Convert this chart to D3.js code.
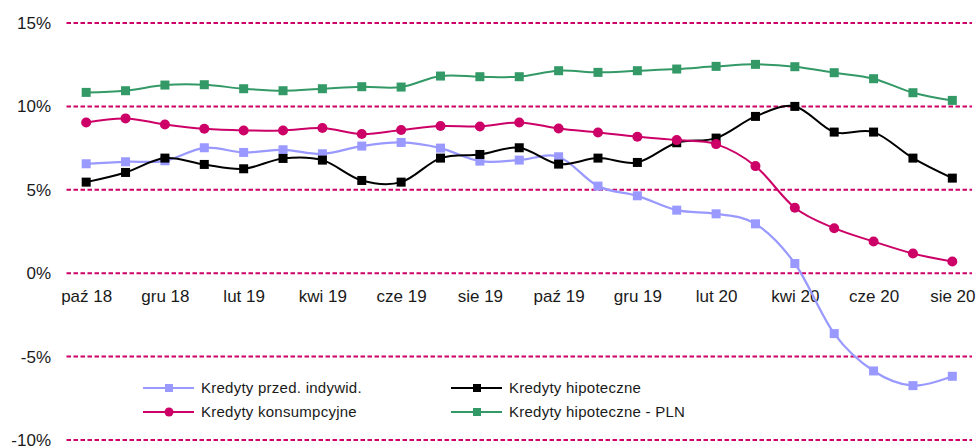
<!DOCTYPE html>
<html>
<head>
<meta charset="utf-8">
<script src="https://cdn.jsdelivr.net/npm/d3@7"></script>
<style>
  html, body { margin: 0; padding: 0; background: #fff; }
  svg { display: block; font-family: "Liberation Sans", Arial, sans-serif; }
</style>
</head>
<body>
<svg id="chart" width="978" height="448"></svg>
<script>
// ---- data ----
const months = ['paź 18','lis 18','gru 18','sty 19','lut 19','mar 19','kwi 19','maj 19','cze 19','lip 19','sie 19','wrz 19',
                'paź 19','lis 19','gru 19','sty 20','lut 20','mar 20','kwi 20','maj 20','cze 20','lip 20','sie 20'];
const tickLabels = ['paź 18','gru 18','lut 19','kwi 19','cze 19','sie 19','paź 19','gru 19','lut 20','kwi 20','cze 20','sie 20'];
const yTicks = [-10, -5, 0, 5, 10, 15];

const przedIndywid = [6.56, 6.68, 6.74, 7.52, 7.24, 7.40, 7.16, 7.62, 7.84, 7.50, 6.72, 6.78,
                      6.98, 5.22, 4.64, 3.78, 3.56, 2.96, 0.58, -3.62, -5.86, -6.74, -6.18];
const hipoteczne   = [5.46, 6.04, 6.90, 6.52, 6.26, 6.88, 6.78, 5.56, 5.46, 6.90, 7.12, 7.52,
                      6.54, 6.90, 6.64, 7.82, 8.10, 9.40, 10.00, 8.46, 8.46, 6.90, 5.70];
const konsumpcyjne = [9.04, 9.28, 8.92, 8.66, 8.56, 8.56, 8.70, 8.34, 8.58, 8.82, 8.80, 9.04,
                      8.68, 8.44, 8.18, 7.98, 7.74, 6.42, 3.92, 2.70, 1.90, 1.18, 0.70];
const hipotecznePLN = [10.84, 10.94, 11.28, 11.30, 11.06, 10.94, 11.06, 11.18, 11.16, 11.82, 11.78, 11.78,
                       12.14, 12.04, 12.14, 12.24, 12.40, 12.52, 12.38, 12.02, 11.66, 10.82, 10.36];

const seriesNames = ['Kredyty przed. indywid.', 'Kredyty hipoteczne', 'Kredyty konsumpcyjne', 'Kredyty hipoteczne - PLN'];
const seriesValues = [przedIndywid, hipoteczne, konsumpcyjne, hipotecznePLN];
const seriesColors = ['#9999FF', '#000000', '#CC0066', '#339966'];
const seriesMarkers = ['square', 'square', 'circle', 'square'];

// ---- layout ----
const svg = d3.select('#chart');
const plotLeft = 66.5, plotRight = 972, plotTop = 23, plotBottom = 440;

const xBand = d3.scaleBand().domain(months).range([plotLeft, plotRight]).padding(0);
const x = m => xBand(m) + xBand.bandwidth() / 2;
const y = d3.scaleLinear().domain([-10, 15]).range([plotBottom, plotTop]);

// gridlines
svg.append('g').selectAll('line').data(yTicks).join('line')
  .attr('x1', plotLeft).attr('x2', plotRight)
  .attr('y1', d => y(d)).attr('y2', d => y(d))
  .attr('stroke', '#CC0066').attr('stroke-width', 2)
  .attr('stroke-dasharray', '4.5,2.5');

// y axis
const yAxis = d3.axisLeft(y).tickValues(yTicks).tickSize(0).tickPadding(15.5).tickFormat(d => d + '%');
const gy = svg.append('g').attr('transform', `translate(${plotLeft},0)`).call(yAxis);
gy.select('.domain').remove();
gy.selectAll('text').attr('font-size', 17).attr('fill', '#1a1a1a')
  .attr('font-family', '"Liberation Sans", Arial, sans-serif');

// x axis (labels under 0%)
const xPoint = d3.scalePoint().domain(months).range([x(months[0]), x(months[months.length - 1])]);
const xAxis = d3.axisBottom(xPoint).tickValues(tickLabels).tickSize(0).tickPadding(17);
const gx = svg.append('g').attr('transform', `translate(0,${y(0)})`).call(xAxis);
gx.select('.domain').remove();
gx.selectAll('text').attr('font-size', 17).attr('fill', '#1a1a1a')
  .attr('font-family', '"Liberation Sans", Arial, sans-serif');

// lines
const line = d3.line()
  .x((d, i) => x(months[i]))
  .y(d => y(d))
  .curve(d3.curveCatmullRom.alpha(0));

function drawMarker(g, type, cx, cy, size, color) {
  if (type === 'square') {
    g.append('rect').attr('x', cx - size / 2).attr('y', cy - size / 2)
      .attr('width', size).attr('height', size).attr('fill', color);
  } else {
    g.append('circle').attr('cx', cx).attr('cy', cy).attr('r', size / 2 + 0.5).attr('fill', color);
  }
}

seriesValues.forEach((vals, si) => {
  const g = svg.append('g');
  g.append('path').datum(vals)
    .attr('d', line)
    .attr('fill', 'none')
    .attr('stroke', seriesColors[si])
    .attr('stroke-width', si === 0 ? 2.25 : 2);
  vals.forEach((v, i) => drawMarker(g, seriesMarkers[si], x(months[i]), y(v), 9, seriesColors[si]));
});

// legend
const legendPos = [
  {x: 143, y: 388}, {x: 451, y: 388},
  {x: 143, y: 412}, {x: 451, y: 412}
];
seriesNames.forEach((name, si) => {
  const p = legendPos[si];
  const g = svg.append('g');
  g.append('line').attr('x1', p.x).attr('x2', p.x + 51).attr('y1', p.y).attr('y2', p.y)
    .attr('stroke', seriesColors[si]).attr('stroke-width', 2);
  drawMarker(g, seriesMarkers[si], p.x + 26, p.y, 8, seriesColors[si]);
  g.append('text').attr('x', p.x + 58).attr('y', p.y).attr('dy', '0.35em')
    .attr('font-size', 15).attr('letter-spacing', '0.25px').attr('fill', '#1a1a1a')
    .text(name);
});
</script>
</body>
</html>
